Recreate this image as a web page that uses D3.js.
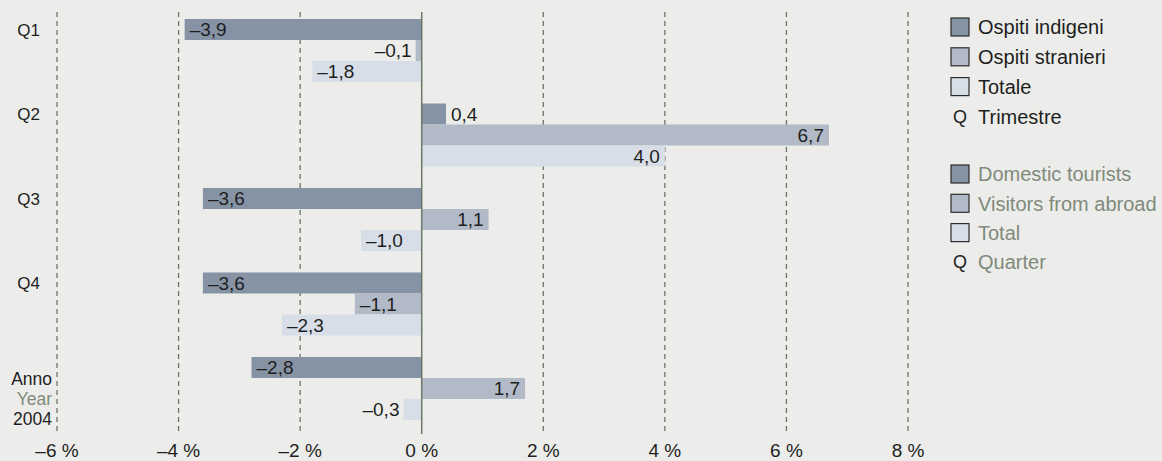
<!DOCTYPE html>
<html>
<head>
<meta charset="utf-8">
<script src="https://cdn.jsdelivr.net/npm/d3@7"></script>
<style>
  body { margin: 0; background: #ecedea; }
  svg { display: block; }
  text { font-family: "Liberation Sans", Arial, sans-serif; }
</style>
</head>
<body>
<svg id="chart" width="1162" height="461"></svg>
<script>
// data
var categories = ["Q1", "Q2", "Q3", "Q4", "Anno"];
var domestic = [-3.9, 0.4, -3.6, -3.6, -2.8];
var abroad = [-0.1, 6.7, 1.1, -1.1, 1.7];
var total = [-1.8, 4.0, -1.0, -2.3, -0.3];
var ticks = [-6, -4, -2, 0, 2, 4, 6, 8];
var legendIt = ["Ospiti indigeni", "Ospiti stranieri", "Totale", "Trimestre"];
var legendEn = ["Domestic tourists", "Visitors from abroad", "Total", "Quarter"];

var colors = ["#8593a5", "#b2bac8", "#d7dee7"];
var series = [domestic, abroad, total];

var svg = d3.select("#chart");

var x = d3.scaleLinear().domain([-6, 8]).range([57, 908]);

var y = d3.scaleBand()
    .domain(categories)
    .range([19, 420])
    .paddingInner(0.254)
    .paddingOuter(0)
    .align(0);

var sub = d3.scaleBand()
    .domain([0, 1, 2])
    .range([0, y.bandwidth()]);

// grid lines
svg.append("g").selectAll("line")
    .data(ticks.filter(function(d) { return d !== 0; }))
  .enter().append("line")
    .attr("x1", function(d) { return x(d); })
    .attr("x2", function(d) { return x(d); })
    .attr("y1", 12)
    .attr("y2", 434)
    .attr("stroke", "#6f7268")
    .attr("stroke-width", 1.3)
    .attr("stroke-dasharray", "5,4");

// bars
var rows = [];
categories.forEach(function(c, i) {
  series.forEach(function(s, j) {
    rows.push({cat: c, s: j, v: s[i]});
  });
});

svg.append("g").selectAll("rect")
    .data(rows)
  .enter().append("rect")
    .attr("x", function(d) { return x(Math.min(0, d.v)); })
    .attr("y", function(d) { return y(d.cat) + sub(d.s); })
    .attr("width", function(d) { return Math.abs(x(d.v) - x(0)); })
    .attr("height", sub.bandwidth())
    .attr("fill", function(d) { return colors[d.s]; });

// zero line
svg.append("line")
    .attr("x1", x(0)).attr("x2", x(0))
    .attr("y1", 12).attr("y2", 434)
    .attr("stroke", "#6d7866")
    .attr("stroke-width", 1.5);

// value labels
var fmt = function(v) {
  return (v < 0 ? "\u2013" : "") + Math.abs(v).toFixed(1).replace(".", ",");
};

svg.append("g").selectAll("text")
    .data(rows)
  .enter().append("text")
    .attr("x", function(d) {
      var inside = Math.abs(d.v) >= 0.5;
      if (d.v < 0) return inside ? x(d.v) + 5 : x(d.v) - 4;
      return inside ? x(d.v) - 5 : x(d.v) + 5;
    })
    .attr("y", function(d) { return y(d.cat) + sub(d.s) + sub.bandwidth() / 2; })
    .attr("dy", "0.36em")
    .attr("text-anchor", function(d) {
      var inside = Math.abs(d.v) >= 0.5;
      return (d.v < 0) === inside ? "start" : "end";
    })
    .attr("font-size", 19)
    .attr("fill", "#1e1e1e")
    .text(function(d) { return fmt(d.v); });

// category labels
svg.append("g").selectAll("text")
    .data(categories.slice(0, 4))
  .enter().append("text")
    .attr("x", 40)
    .attr("y", function(d) { return y(d) + sub.bandwidth() / 2; })
    .attr("dy", "0.36em")
    .attr("text-anchor", "end")
    .attr("font-size", 17)
    .attr("fill", "#1e1e1e")
    .text(function(d) { return d; });

var yearLines = [["Anno", "#1e1e1e"], ["Year", "#808a7c"], ["2004", "#1e1e1e"]];
svg.append("g").selectAll("text")
    .data(yearLines)
  .enter().append("text")
    .attr("x", 52)
    .attr("y", function(d, i) { return y("Anno") + 22 + i * 20; })
    .attr("dy", "0.36em")
    .attr("text-anchor", "end")
    .attr("font-size", 17.5)
    .attr("fill", function(d) { return d[1]; })
    .text(function(d) { return d[0]; });

// axis tick labels
svg.append("g").selectAll("text")
    .data(ticks)
  .enter().append("text")
    .attr("x", function(d) { return x(d); })
    .attr("y", 451)
    .attr("dy", "0.34em")
    .attr("text-anchor", "middle")
    .attr("font-size", 19)
    .attr("fill", "#1e1e1e")
    .text(function(d) { return (d < 0 ? "\u2013" : "") + Math.abs(d) + " %"; });

// legend
function legend(items, top, step, color) {
  var g = svg.append("g");
  items.forEach(function(t, i) {
    var cy = top + i * step;
    if (i < 3) {
      g.append("rect")
          .attr("x", 951).attr("y", cy - 9)
          .attr("width", 18).attr("height", 18)
          .attr("fill", colors[i])
          .attr("stroke", "#2b2b2b")
          .attr("stroke-width", 1.2);
    } else {
      g.append("text")
          .attr("x", 960).attr("y", cy)
          .attr("dy", "0.36em")
          .attr("text-anchor", "middle")
          .attr("font-size", 18)
          .attr("fill", "#1e1e1e")
          .text("Q");
    }
    g.append("text")
        .attr("x", 978).attr("y", cy)
        .attr("dy", "0.36em")
        .attr("font-size", 20)
        .attr("fill", color)
        .text(t);
  });
}
legend(legendIt, 27, 29.8, "#1e1e1e");
legend(legendEn, 174, 29.3, "#7f8a7b");
</script>
</body>
</html>
